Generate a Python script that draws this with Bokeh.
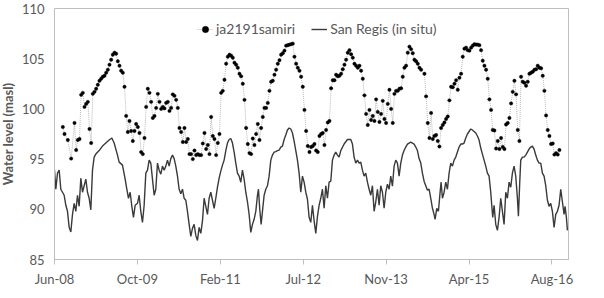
import datetime as dt
from bokeh.plotting import figure
from bokeh.models import Range1d, FixedTicker, Legend, LegendItem, DatetimeTickFormatter
from bokeh.embed import file_html
from bokeh.resources import INLINE

# ---------------- data ----------------
START = dt.datetime(2008, 6, 1)      # axis start (Jun-08)
END = dt.datetime(2016, 11, 26)      # axis end
STEP_DAYS = 10.05                    # one sampling step (~altimetry cycle), in days

y_ticks = [85, 90, 95, 100, 105, 110]
x_tick_labels = ["Jun-08", "Oct-09", "Feb-11", "Jul-12", "Nov-13", "Apr-15", "Aug-16"]
x_tick_every_days = 500

series_names = ["ja2191samiri", "San Regis (in situ)"]

# altimetry virtual station ja2191samiri : sample step index -> water level (m)
alt_step = [5, 6, 8, 10] + list(range(12, 221)) + list(range(222, 304))
alt_level_a = [98.2, 97.5, 96.9, 95.05]
alt_level_b = [
    98.6, 95.9, 96.9, 97.0, 101.4, 101.6, 100.2, 100.5, 100.7, 98.0,
    96.6, 101.5, 101.7, 102.0, 102.4, 102.8, 103.0, 103.2, 103.3, 103.6,
    103.9, 104.4, 104.9, 105.4, 105.6, 105.5, 104.75, 104.3, 103.8, 103.6,
    102.2, 99.3, 97.7, 98.8, 97.8, 96.8, 97.8, 98.5, 98.2, 97.6,
    95.7, 95.5, 97.1, 100.2, 102.0, 101.6, 100.7, 99.1, 99.3, 100.1,
    101.5, 100.7, 100.0, 100.2, 100.05, 100.6, 100.7, 99.8, 100.1, 101.45,
    101.3, 100.9, 100.1, 98.1, 97.7, 96.7, 98.1, 96.7, 97.0, 95.5,
    95.5, 95.0, 95.85, 95.4, 95.5, 95.4, 95.4, 96.55, 97.6, 96.0,
    96.4, 95.5, 99.2, 97.3, 97.0, 95.4, 96.6, 97.5, 101.6, 101.8,
    102.9, 104.5, 105.2, 105.4, 105.3, 105.1, 104.6, 104.4, 104.1, 103.5,
    103.25, 102.5, 100.9, 98.1, 96.5, 95.6, 95.5, 97.05, 96.4, 97.5,
    98.5, 96.9, 98.1, 99.2, 100.1, 100.1, 100.6, 101.8, 102.7, 102.8,
    103.4, 103.9, 104.5, 104.85, 105.4, 105.55, 105.8, 106.3, 106.35, 106.4,
    106.45, 106.5, 105.2, 104.5, 104.1, 103.8, 103.2, 102.2, 99.9, 97.8,
    96.3, 95.7, 96.2, 96.3, 96.5, 95.85, 95.7, 97.3, 97.5, 97.6,
    96.4, 97.9, 98.65, 98.8, 102.05, 102.85, 102.85, 103.4, 103.25, 103.3,
    103.5, 103.95, 104.4, 104.9, 105.6, 105.85, 105.45, 105.1, 104.5, 104.3,
    104.1, 104.3, 103.8, 103.0, 101.35, 99.5, 98.4, 99.9, 98.9, 99.3,
    98.8, 100.95, 99.7, 98.7, 99.5, 100.8, 99.0, 98.6, 100.5, 101.9,
    100.0, 98.6, 101.5, 101.8, 101.8, 102.0, 102.05, 103.2, 104.1, 104.3,
    105.6, 106.2, 105.95, 105.55, 104.9, 104.75, 104.5, 104.1, 103.9,
]
alt_level_c = [
    103.5, 101.25, 98.6, 97.1, 99.6, 97.0, 97.3, 97.4, 96.8, 96.25,
    98.1, 98.4, 98.65, 99.0, 99.25, 100.85, 102.2, 102.15, 102.5, 102.85,
    101.9, 103.1, 103.5, 105.2, 106.0, 106.1, 105.85, 105.8, 106.1, 106.3,
    106.45, 106.4, 106.4, 106.35, 105.85, 104.8, 104.3, 103.9, 103.0, 100.95,
    99.9, 97.9, 97.85, 96.05, 96.8, 96.0, 97.1, 96.2, 96.0, 98.45,
    98.6, 99.1, 100.55, 101.7, 102.8, 101.45, 97.9, 96.8, 103.2, 102.7,
    102.6, 102.3, 102.7, 103.5, 103.6, 103.7, 103.9, 103.95, 104.3, 104.1,
    104.05, 103.3, 101.8, 99.35, 97.9, 97.3, 96.5, 96.55, 95.45, 95.6, 95.45, 95.9,
]
alt_level = alt_level_a + alt_level_b + alt_level_c

# in situ gauge San Regis : time (in sampling steps) -> water level (m)
insitu_step = [
    0, 0.8, 1.8, 2.8, 3.8, 4.8, 5.8, 6.8, 7.8, 8.8,
    9.8, 10.8, 11.8, 12.8, 13.8, 14.8, 15.8, 16.8, 17.8, 18.8,
    19.8, 20.8, 21.8, 22.8, 23.8, 24.8, 26.8, 28.8, 30.8, 32.8,
    34.4, 35.8, 37.8, 38.8, 40.8, 42.4, 43.4, 44.4, 45.4, 46.4,
    47.4, 48.4, 49.8, 50.8, 51.8, 52.8, 53.8, 54.8, 55.8, 56.8,
    57.8, 58.8, 59.8, 60.8, 61.8, 62.8, 63.8, 64.8, 65.8, 66.8,
    67.8, 68.8, 69.8, 70.8, 71.8, 72.8, 73.8, 74.8, 75.8, 76.8,
    77.8, 78.8, 79.8, 80.8, 81.8, 82.8, 83.8, 84.8, 85.8, 86.8,
    87.8, 88.8, 89.8, 90.8, 91.8, 92.8, 93.8, 94.8, 95.8, 96.8,
    97.8, 98.8, 99.8, 100.8, 101.8, 102.8, 103.8, 104.8, 105.8, 106.8,
    107.8, 108.8, 109.8, 110.8, 111.8, 112.8, 113.8, 114.8, 115.8, 116.8,
    117.8, 118.8, 119.8, 120.8, 121.8, 122.4, 123.2, 124.0, 124.8, 125.8,
    126.8, 127.8, 128.8, 129.8, 130.8, 131.8, 132.8, 133.8, 134.8, 135.8,
    136.8, 137.8, 138.8, 139.8, 140.8, 141.8, 142.8, 143.8, 144.8, 145.8,
    146.8, 147.8, 148.8, 149.8, 150.8, 151.8, 152.8, 153.8, 154.8, 155.8,
    156.8, 157.8, 158.8, 159.8, 160.8, 161.8, 162.8, 163.8, 164.8, 165.8,
    166.8, 167.8, 168.8, 169.8, 170.8, 171.8, 173.8, 175.8, 177.8, 178.8,
    179.8, 180.8, 181.8, 182.8, 183.8, 184.8, 185.8, 186.8, 187.8, 188.8,
    189.8, 190.8, 191.8, 192.8, 193.8, 194.8, 195.8, 196.8, 197.8, 198.8,
    199.8, 200.8, 201.8, 202.8, 203.8, 204.8, 205.8, 206.8, 207.8, 208.8,
    209.8, 210.8, 211.8, 212.8, 213.8, 214.8, 215.8, 216.8, 217.8, 218.8,
    219.8, 220.8, 221.8, 222.8, 223.8, 224.8, 225.8, 226.8, 227.8, 228.4,
    229.4, 230.4, 231.4, 232.0, 232.8, 233.8, 234.8, 235.8, 236.8, 237.8,
    238.8, 239.8, 240.8, 241.8, 242.8, 243.8, 244.8, 245.8, 246.8, 247.8,
    248.8, 249.8, 250.8, 251.8, 252.8, 253.8, 254.8, 255.8, 256.8, 257.8,
    258.8, 259.8, 260.8, 261.8, 262.4, 263.0, 263.8, 264.8, 265.8, 266.8,
    267.8, 268.8, 269.8, 270.8, 271.8, 272.8, 273.8, 274.8, 275.8, 276.8,
    277.8, 278.4, 279.2, 279.8, 280.8, 281.8, 282.8, 283.8, 284.8, 285.8,
    286.8, 287.8, 288.8, 289.8, 290.8, 291.8, 292.8, 293.8, 294.8, 295.8,
    296.8, 297.8, 298.8, 299.8, 300.8, 301.8, 302.8, 303.8, 304.8, 305.8,
    306.4, 307.2, 307.8,
]
insitu_level = [
    93.9, 92.0, 93.6, 93.9, 92.0, 91.7, 91.4, 90.4, 89.8, 88.2,
    87.75, 89.5, 90.6, 89.8, 91.4, 90.3, 93.1, 91.7, 92.35, 93.0,
    91.7, 91.1, 89.95, 93.9, 95.2, 95.5, 95.85, 96.3, 96.6, 96.9,
    97.1, 96.6, 95.4, 94.7, 94.4, 93.0, 92.0, 91.1, 91.7, 90.3,
    89.2, 90.4, 90.6, 91.4, 89.8, 88.7, 90.4, 93.6, 93.9, 94.9,
    94.6, 93.0, 91.4, 92.0, 94.6, 93.9, 93.5, 94.3, 93.9, 94.3,
    94.9, 94.3, 95.05, 95.4, 95.05, 94.3, 93.3, 92.0, 91.55, 92.0,
    91.1, 90.9, 89.8, 88.5, 87.3, 88.1, 88.5, 87.4, 86.9, 88.2,
    87.6, 88.85, 91.1, 90.3, 89.5, 91.1, 91.7, 90.9, 90.1, 91.1,
    92.2, 93.1, 93.8, 94.4, 94.9, 95.85, 96.6, 96.95, 97.05, 96.6,
    95.7, 94.6, 93.6, 93.3, 92.7, 93.9, 93.0, 91.7, 90.75, 89.5,
    87.7, 88.5, 89.0, 89.8, 91.4, 92.0, 89.95, 88.5, 89.8, 91.4,
    92.0, 92.35, 93.3, 94.9, 95.4, 95.7, 95.75, 95.85, 95.9, 96.2,
    96.3, 96.95, 97.4, 97.9, 98.1, 98.0, 97.6, 96.8, 95.85, 94.9,
    93.6, 91.7, 93.3, 92.7, 91.7, 91.0, 89.2, 88.7, 90.4, 88.85,
    87.6, 89.3, 90.4, 91.1, 92.0, 90.1, 92.35, 91.1, 92.7, 92.8,
    94.9, 95.4, 95.7, 95.4, 95.2, 95.85, 96.5, 96.95, 96.95, 96.5,
    95.2, 94.6, 94.9, 94.6, 94.7, 93.9, 93.3, 93.6, 92.7, 92.0,
    91.4, 92.35, 89.8, 90.75, 92.0, 90.4, 92.35, 91.7, 90.1, 91.7,
    92.5, 92.0, 93.3, 92.3, 94.3, 94.9, 94.6, 93.3, 94.6, 95.4,
    95.85, 96.2, 96.5, 96.6, 96.7, 96.6, 96.5, 96.2, 95.85, 95.05,
    94.6, 93.6, 92.8, 92.35, 91.9, 92.0, 91.1, 90.1, 89.5, 89.0,
    90.1, 89.8, 91.7, 92.7, 91.1, 91.7, 92.7, 92.0, 93.6, 94.6,
    94.3, 94.9, 95.2, 95.7, 96.2, 96.5, 96.5, 96.6, 97.1, 97.5,
    97.75, 98.0, 97.9, 97.75, 97.6, 97.3, 96.9, 96.1, 95.5, 94.9,
    94.3, 93.6, 93.3, 91.7, 90.4, 89.2, 90.4, 88.5, 87.9, 89.2,
    91.1, 89.8, 88.5, 91.7, 91.1, 92.7, 92.2, 93.6, 94.3, 93.3,
    91.1, 89.3, 92.7, 94.9, 95.2, 95.2, 95.4, 95.7, 96.0, 96.2,
    96.3, 96.0, 95.4, 94.9, 94.6, 94.6, 93.6, 93.3, 92.35, 90.9,
    90.3, 90.6, 89.8, 88.2, 89.5, 89.8, 90.4, 92.0, 90.75, 89.5,
    90.3, 89.2, 87.9,
]

# ---------------- helpers ----------------
def to_date(step):
    return START + dt.timedelta(days=step * STEP_DAYS)

n_alt = min(len(alt_step), len(alt_level))
alt_x = [to_date(s) for s in alt_step[:n_alt]]
alt_y = alt_level[:n_alt]
n_ins = min(len(insitu_step), len(insitu_level))
ins_x = [to_date(s) for s in insitu_step[:n_ins]]
ins_y = insitu_level[:n_ins]

EPOCH = dt.datetime(1970, 1, 1)
tick_ms = [int((START + dt.timedelta(days=x_tick_every_days * i) - EPOCH).total_seconds() * 1000)
           for i in range(len(x_tick_labels))]

# ---------------- figure ----------------
GRAY_TXT = "#595959"
AXIS_GRAY = "#BFBFBF"
FONT = "Lato"

p = figure(width=604, height=298, x_axis_type="datetime",
           output_backend="svg", toolbar_location=None,
           x_range=Range1d(START, END), y_range=Range1d(y_ticks[0], y_ticks[-1]),
           min_border_left=62, min_border_right=28, min_border_top=16, min_border_bottom=31)
p.margin = (-8, 0, -8, -8)
p.background_fill_color = "white"
p.border_fill_color = "white"
p.outline_line_color = AXIS_GRAY
p.xgrid.visible = False
p.ygrid.visible = False

ins_r = p.line(ins_x, ins_y, line_color="#3a3a3a", line_width=1.4)
alt_line = p.line(alt_x, alt_y, line_color="#a6a6a6", line_width=0.8, line_dash="1 1")
alt_pts = p.scatter(alt_x, alt_y, size=3.4, fill_color="black", line_color="black", line_width=0.4)

# y axis
ya = p.yaxis[0]
ya.ticker = FixedTicker(ticks=y_ticks)
ya.major_tick_out = 0
ya.major_tick_in = 0
ya.minor_tick_out = 0
ya.minor_tick_in = 0
ya.axis_line_color = AXIS_GRAY
ya.major_label_text_font = FONT
ya.major_label_text_font_size = "13px"
ya.major_label_text_color = GRAY_TXT
ya.major_label_standoff = 10
ya.axis_label = "Water level (masl)"
ya.axis_label_text_font = FONT
ya.axis_label_text_font_size = "13px"
ya.axis_label_text_font_style = "bold"
ya.axis_label_text_color = GRAY_TXT
ya.axis_label_standoff = 3

# x axis
xa = p.xaxis[0]
xa.ticker = FixedTicker(ticks=tick_ms)
xa.formatter = DatetimeTickFormatter(days="%b-%y", months="%b-%y", years="%b-%y")
xa.major_label_overrides = {t: lab for t, lab in zip(tick_ms, x_tick_labels)}
xa.major_tick_out = 5
xa.major_tick_in = 0
xa.minor_tick_out = 0
xa.minor_tick_in = 0
xa.major_tick_line_color = AXIS_GRAY
xa.axis_line_color = AXIS_GRAY
xa.major_label_text_font = FONT
xa.major_label_text_font_size = "13px"
xa.major_label_text_color = GRAY_TXT
xa.major_label_standoff = 6

legend = Legend(items=[LegendItem(label=series_names[0], renderers=[alt_line, alt_pts]),
                       LegendItem(label=series_names[1], renderers=[ins_r])],
                orientation="horizontal", location=(143, 222),
                label_text_font=FONT, label_text_font_size="14px", label_text_color=GRAY_TXT,
                border_line_color=None, background_fill_alpha=0,
                glyph_width=16, glyph_height=16, label_height=16, label_standoff=3,
                spacing=16, padding=0, margin=0)
p.add_layout(legend)

open("out.html", "w").write(file_html(p, INLINE))
